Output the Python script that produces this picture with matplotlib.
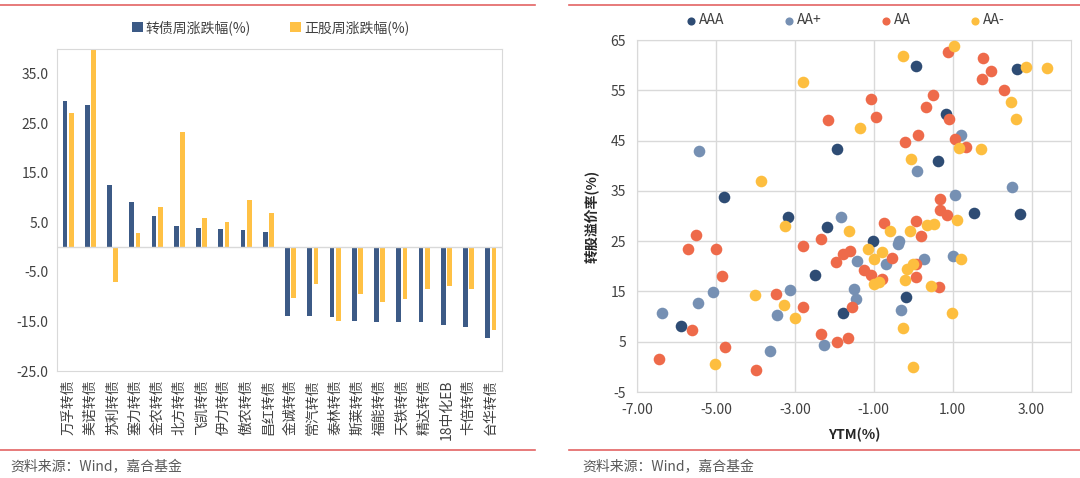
import matplotlib
matplotlib.use("Agg")
import matplotlib.pyplot as plt
import numpy as np
from matplotlib.lines import Line2D

plt.rcParams["font.family"] = ["Noto Sans CJK SC", "DejaVu Sans"]
plt.rcParams["axes.unicode_minus"] = False

# left chart: weekly change of bonds and underlying stocks
bond_names = ["万孚转债", "美诺转债", "苏利转债", "塞力转债", "金农转债", "北方转债", "飞凯转债",
              "伊力转债", "傲农转债", "昌红转债", "金诚转债", "常汽转债", "泰林转债", "斯莱转债",
              "福能转债", "天铁转债", "精达转债", "18中化EB", "卡倍转债", "台华转债"]
bond_chg = [29.5, 28.7, 12.6, 9.2, 6.3, 4.2, 3.8, 3.6, 3.5, 3.0,
            -13.9, -13.9, -14.2, -15.0, -15.1, -15.2, -15.2, -15.8, -16.2, -18.3]
stock_chg = [27.0, 45.0, -7.1, 2.9, 8.1, 23.3, 5.9, 5.1, 9.5, 6.8,
             -10.3, -7.5, -14.9, -9.4, -11.0, -10.5, -8.5, -7.8, -8.4, -16.8]

# right chart: YTM vs conversion premium by rating
aaa_x = [0.06, 2.63, 0.83, -1.92, 0.62, -4.79, -3.18, -2.19, 1.54, 2.71, -1.03, -2.48, -0.19, -1.78, -5.88]
aaa_y = [59.9, 59.3, 50.3, 43.3, 40.9, 33.7, 29.8, 27.8, 30.5, 30.4, 25.1, 18.3, 13.9, 10.8, 8.2]

aap_x = [-5.42, 1.21, 0.10, 2.51, 1.05, -1.83, -0.39, -0.35, -1.42, -0.69, 0.28, 1.01, -1.51, -1.45,
         -3.13, -5.08, -5.45, -0.31, -6.36, -3.44, -2.27, -3.62]
aap_y = [43.0, 46.2, 38.9, 35.7, 34.2, 29.8, 24.5, 25.1, 21.0, 20.5, 21.5, 22.1, 15.4, 13.5,
         15.2, 14.8, 12.6, 11.3, 10.7, 10.3, 4.3, 3.1]

aa_x = [0.88, 1.77, 1.98, 1.75, 2.29, -1.06, 0.50, 0.32, -2.16, -0.94, 0.90, 0.12, -0.20, 1.07, 1.33,
        -5.50, -5.71, -4.99, -4.85, -2.79, -2.33, -1.95, -1.78, -1.60, -1.24, -1.08, -0.78, -0.73,
        -0.54, 0.07, 0.19, 0.06, 0.07, 0.69, 0.69, 0.85, 0.65, -3.48, -2.79, -1.54,
        -2.33, -1.92, -1.64, -5.60, -4.77, -6.43, -3.99]
aa_y = [62.7, 61.5, 58.9, 57.3, 55.1, 53.2, 54.1, 51.7, 49.1, 49.7, 49.3, 46.2, 44.7, 45.3, 43.8,
        26.3, 23.5, 23.5, 18.1, 24.1, 25.4, 20.9, 22.5, 23.1, 19.3, 18.2, 17.5, 28.7,
        21.7, 29.0, 26.1, 20.5, 17.8, 33.3, 31.1, 30.2, 15.8, 14.5, 12.0, 12.0,
        6.6, 5.0, 5.7, 7.3, 3.9, 1.5, -0.6]

aam_x = [-2.79, -0.27, 1.03, 2.86, 3.40, 2.47, 2.61, -1.35, 1.15, 1.72, -0.05, -3.85,
         -3.25, -1.63, -0.59, -0.08, 0.36, 0.53, 1.11, -1.15, -0.99, -0.80, -0.16, 0.00,
         -0.22, -0.99, -0.86, 0.44, 1.22, -0.27, -0.01, -3.28, -3.00, -4.00, 0.99, -5.02]
aam_y = [56.6, 61.9, 63.9, 59.7, 59.4, 52.7, 49.3, 47.5, 43.5, 43.4, 41.3, 36.9,
         28.1, 27.1, 27.1, 27.1, 28.3, 28.5, 29.3, 23.5, 21.5, 22.8, 19.5, 20.5,
         17.2, 16.5, 16.8, 16.1, 21.5, 7.8, 0.0, 12.3, 9.8, 14.3, 10.8, 0.6]

BLUE = "#3C5A86"
GOLD = "#FFC145"
GRID = "#D9D9D9"
RED_LINE = "#E36464"
SRC = "资料来源：Wind，嘉合基金"

fig = plt.figure(figsize=(10.8, 4.78), dpi=100)

# decorative lines and source notes
for x0, x1 in [(0.0, 0.495), (0.527, 1.0)]:
    fig.add_artist(Line2D([x0, x1], [1 - 5 / 478, 1 - 5 / 478], color=RED_LINE, lw=1.2))
    fig.add_artist(Line2D([x0, x1], [1 - 450 / 478, 1 - 450 / 478], color=RED_LINE, lw=1.2))
fig.text(10 / 1080, 1 - 467 / 478, SRC, fontsize=10, color="#595959", va="center")
fig.text(582 / 1080, 1 - 467 / 478, SRC, fontsize=10, color="#595959", va="center")

# ---- left: bar chart
ax1 = fig.add_axes([57 / 1080, 1 - 371 / 478, 445 / 1080, 322 / 478])
x = np.arange(len(bond_names))
w = 0.22
ax1.bar(x - 0.14, bond_chg, width=w, color=BLUE, label="转债周涨跌幅(%)")
ax1.bar(x + 0.14, stock_chg, width=w, color=GOLD, label="正股周涨跌幅(%)")
ax1.axhline(0, color=GRID, lw=1)
ax1.set_xlim(-0.5, len(bond_names) - 0.5)
ax1.set_ylim(-25, 40)
ax1.set_yticks(np.arange(-25, 36, 10))
ax1.set_yticklabels([f"{v:.1f}" for v in np.arange(-25, 36, 10)], fontsize=10, color="#404040")
ax1.set_xticks(x)
ax1.set_xticklabels(bond_names, rotation=90, fontsize=10, color="#404040")
ax1.tick_params(length=0, pad=6)
for s in ax1.spines.values():
    s.set_color(GRID)
ax1.legend(loc="lower center", bbox_to_anchor=(0.48, 1.005), ncol=2, frameon=False,
           fontsize=10, handlelength=0.8, handleheight=0.8, columnspacing=2.8,
           handletextpad=0.2, labelcolor="#404040")

# ---- right: scatter chart
ax2 = fig.add_axes([637 / 1080, 1 - 392 / 478, 434 / 1080, 352 / 478])
ax2.set_axisbelow(True)
ax2.grid(True, color=GRID, lw=1)
ms = 70
ax2.scatter(aaa_x, aaa_y, s=ms, color="#2E4C74", label="AAA", zorder=3, linewidths=0)
ax2.scatter(aap_x, aap_y, s=ms, color="#7690B3", label="AA+", zorder=3, linewidths=0)
ax2.scatter(aa_x, aa_y, s=ms, color="#EE6A4A", label="AA", zorder=3, linewidths=0)
ax2.scatter(aam_x, aam_y, s=ms, color="#FDBE3F", label="AA-", zorder=3, linewidths=0)
ax2.set_xlim(-7, 4)
ax2.set_ylim(-5, 65)
ax2.set_xticks(np.arange(-7, 4, 2))
ax2.set_xticklabels([f"{v:.2f}" for v in np.arange(-7, 4, 2)], fontsize=10, color="#404040")
ax2.set_yticks(np.arange(-5, 66, 10))
ax2.set_yticklabels([str(v) for v in np.arange(-5, 66, 10)], fontsize=10, color="#404040")
ax2.tick_params(length=0, pad=8)
for s in ax2.spines.values():
    s.set_color(GRID)
ax2.set_xlabel("YTM(%)", fontsize=10, fontweight="bold", color="#262626", labelpad=8)
ax2.set_ylabel("转股溢价率(%)", fontsize=10, fontweight="bold", color="#262626", labelpad=8)
ax2.legend(loc="lower center", bbox_to_anchor=(0.48, 1.0), ncol=4, frameon=False,
           fontsize=10, markerscale=0.7, handlelength=0.8, handletextpad=0.2,
           columnspacing=4.2, labelcolor="#404040")

fig.savefig("out.png", dpi=100)
